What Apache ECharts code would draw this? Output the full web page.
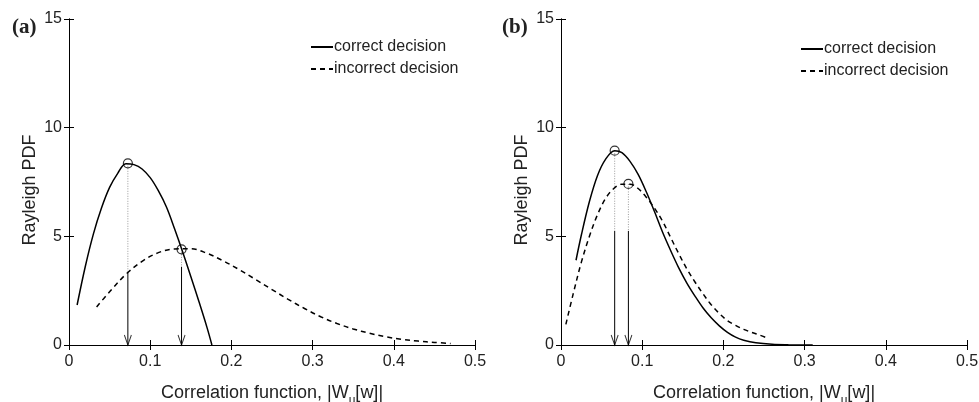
<!DOCTYPE html>
<html>
<head>
<meta charset="utf-8">
<script src="https://cdn.jsdelivr.net/npm/echarts@6/dist/echarts.min.js"></script>
<style>
  html, body { margin: 0; padding: 0; background: #fff; }
  #chart { width: 979px; height: 402px; }
</style>
</head>
<body>
<div id="chart"></div>
<script>
// panel (a)
var aCorrectX = [0.010, 0.020, 0.030, 0.040, 0.050, 0.060, 0.070, 0.080, 0.090, 0.100, 0.110, 0.120, 0.130, 0.140, 0.150, 0.160, 0.170, 0.176];
var aCorrectY = [1.84, 3.6, 5.1, 6.3, 7.25, 7.9, 8.34, 8.3, 8.1, 7.7, 7.1, 6.35, 5.35, 4.28, 3.15, 2.0, 0.8, 0];
var aWrongX = [0.034, 0.05, 0.07, 0.09, 0.11, 0.13, 0.15, 0.17, 0.19, 0.21, 0.23, 0.25, 0.27, 0.29, 0.31, 0.33, 0.35, 0.37, 0.39, 0.41, 0.43, 0.45, 0.47];
var aWrongY = [1.75, 2.45, 3.25, 3.85, 4.25, 4.42, 4.43, 4.22, 3.87, 3.46, 3.01, 2.55, 2.1, 1.68, 1.3, 0.99, 0.74, 0.54, 0.38, 0.26, 0.18, 0.12, 0.07];
var aMarkX = [0.0725, 0.1386];
var aMarkY = [8.36, 4.40];
var aArrowTop = [3.35, 3.6];

// panel (b)
var bCorrectX = [0.0185, 0.025, 0.035, 0.045, 0.055, 0.066, 0.075, 0.085, 0.095, 0.105, 0.115, 0.125, 0.135, 0.145, 0.155, 0.165, 0.175, 0.185, 0.195, 0.205, 0.215, 0.225, 0.24, 0.26, 0.28, 0.31];
var bCorrectY = [3.9, 5.05, 6.6, 7.8, 8.55, 8.94, 8.85, 8.45, 7.85, 7.05, 6.15, 5.2, 4.35, 3.55, 2.85, 2.25, 1.7, 1.25, 0.88, 0.58, 0.36, 0.22, 0.1, 0.03, 0.01, 0];
var bWrongX = [0.006, 0.015, 0.025, 0.035, 0.045, 0.055, 0.065, 0.075, 0.085, 0.095, 0.105, 0.115, 0.125, 0.135, 0.145, 0.155, 0.165, 0.175, 0.185, 0.195, 0.205, 0.215, 0.225, 0.235, 0.245, 0.252];
var bWrongY = [0.95, 2.35, 3.8, 5.0, 6.0, 6.75, 7.2, 7.4, 7.4, 7.2, 6.8, 6.3, 5.7, 4.95, 4.2, 3.5, 2.9, 2.35, 1.85, 1.45, 1.12, 0.9, 0.72, 0.58, 0.45, 0.35];
var bMarkX = [0.0661, 0.083];
var bMarkY = [8.94, 7.41];
var bArrowTop = [5.25, 5.25];

var xTicks = [0, 0.1, 0.2, 0.3, 0.4, 0.5];
var yTicks = [0, 5, 10, 15];

var FONT = 'Liberation Sans';

function pairs(xs, ys) {
  return xs.map(function (x, i) { return [x, ys[i]]; });
}

function curve(name, xs, ys, dashed, idx) {
  return {
    name: name, type: 'line', xAxisIndex: idx, yAxisIndex: idx,
    data: pairs(xs, ys), showSymbol: false, symbol: 'none',
    smooth: 0.35,
    lineStyle: { color: '#000', width: 1.5, type: dashed ? [5, 4] : 'solid' },
    itemStyle: { color: '#000' },
    z: 3, silent: true
  };
}

function guides(markX, markY, arrowTop, idx) {
  var out = [];
  markX.forEach(function (x, i) {
    // dotted guide from the marker down
    out.push({
      type: 'line', xAxisIndex: idx, yAxisIndex: idx, symbol: 'none', silent: true,
      data: [[x, markY[i]], [x, arrowTop[i]]],
      lineStyle: { color: '#999', width: 1, type: [1, 1.5] }, z: 2
    });
    // arrow shaft
    out.push({
      type: 'line', xAxisIndex: idx, yAxisIndex: idx, symbol: 'none', silent: true,
      data: [[x, arrowTop[i]], [x, 0]],
      lineStyle: { color: '#000', width: 1 }, z: 2
    });
  });
  // arrow heads
  out.push({
    type: 'scatter', xAxisIndex: idx, yAxisIndex: idx, silent: true,
    data: markX.map(function (x) { return [x, 0]; }),
    symbol: 'path://M0,0L5,10L10,0', symbolSize: [7, 10], symbolOffset: [0, '-50%'],
    itemStyle: { color: 'transparent', borderColor: '#000', borderWidth: 1.2 }, z: 4
  });
  // open circles
  out.push({
    type: 'scatter', xAxisIndex: idx, yAxisIndex: idx, silent: true,
    data: pairs(markX, markY),
    symbol: 'circle', symbolSize: 9,
    itemStyle: { color: 'transparent', borderColor: '#000', borderWidth: 1.2 }, z: 5
  });
  return out;
}

var lefts = [69, 561];
var grids = lefts.map(function (l) {
  return { left: l, top: 19, width: 406, height: 326, containLabel: false, outerBoundsMode: 'none' };
});

var xAxes = [], yAxes = [];
[0, 1].forEach(function (g) {
  xAxes.push({
    type: 'value', gridIndex: g, min: 0, max: 0.5, interval: 0.1, position: 'bottom',
    axisLine: { lineStyle: { color: '#000', width: 1 } },
    axisTick: { inside: true, length: 5, lineStyle: { color: '#000' } },
    axisLabel: { color: '#222', fontFamily: FONT, fontSize: 16, margin: 9,
      formatter: function (v) { return xTicks.indexOf(+v.toFixed(1)) >= 0 ? String(+v.toFixed(1)) : ''; } },
    splitLine: { show: false },
    name: '{a|Correlation function, |W}{s|u}{a|[w]|}',
    nameLocation: 'middle', nameGap: 34,
    nameTextStyle: { rich: {
      a: { fontFamily: FONT, fontSize: 18, color: '#222' },
      s: { fontFamily: FONT, fontSize: 12, color: '#222', verticalAlign: 'bottom', padding: [16, 0, 0, 0] }
    } }
  });
  xAxes.push({
    type: 'value', gridIndex: g, min: 0, max: 0.5, interval: 0.1, position: 'top',
    axisLine: { lineStyle: { color: '#000', width: 1 } },
    axisTick: { inside: true, length: 5, lineStyle: { color: '#000' } },
    axisLabel: { show: false }, splitLine: { show: false }
  });
  yAxes.push({
    type: 'value', gridIndex: g, min: 0, max: 15, interval: 5, position: 'left',
    axisLine: { show: true, lineStyle: { color: '#000', width: 1 } },
    axisTick: { show: true, inside: true, length: 5, lineStyle: { color: '#000' } },
    axisLabel: { color: '#222', fontFamily: FONT, fontSize: 16, margin: 7 },
    splitLine: { show: false },
    name: 'Rayleigh PDF', nameLocation: 'middle', nameGap: 30,
    nameTextStyle: { fontFamily: FONT, fontSize: 18, color: '#222', padding: [0, 16, 0, 0] }
  });
  yAxes.push({
    type: 'value', gridIndex: g, min: 0, max: 15, interval: 5, position: 'right',
    axisLine: { show: true, lineStyle: { color: '#000', width: 1 } },
    axisTick: { show: true, inside: true, length: 5, lineStyle: { color: '#000' } },
    axisLabel: { show: false }, splitLine: { show: false }
  });
});

// top/right axes are indices 1 and 3; curves use bottom/left axes 0 and 2
var series = [];
series.push(curve('correct decision', aCorrectX, aCorrectY, false, 0));
series.push(curve('incorrect decision', aWrongX, aWrongY, true, 0));
series = series.concat(guides(aMarkX, aMarkY, aArrowTop, 0));
series.push(curve('correct decision', bCorrectX, bCorrectY, false, 2));
series.push(curve('incorrect decision', bWrongX, bWrongY, true, 2));
series = series.concat(guides(bMarkX, bMarkY, bArrowTop, 2));

function legend(left, top) {
  return {
    data: ['correct decision', 'incorrect decision'],
    orient: 'vertical', left: left, top: top, itemWidth: 22, itemHeight: 14, itemGap: 6,
    selectedMode: false, padding: 0,
    itemStyle: { color: 'transparent', borderColor: 'transparent', borderWidth: 0, opacity: 0 },
    textStyle: { fontFamily: FONT, fontSize: 16, color: '#222', padding: [0, 0, 0, -4] }
  };
}

var chart = echarts.init(document.getElementById('chart'), null, { renderer: 'canvas' });
chart.setOption({
  backgroundColor: '#fff',
  animation: false,
  title: [
    { text: '(a)', left: 7, top: 12, textStyle: { fontFamily: 'Liberation Serif', fontWeight: 'bold', fontSize: 21, color: '#222' } },
    { text: '(b)', left: 497, top: 12, textStyle: { fontFamily: 'Liberation Serif', fontWeight: 'bold', fontSize: 21, color: '#222' } }
  ],
  legend: [legend(310, 39), legend(800, 41)],
  grid: grids,
  xAxis: xAxes,
  yAxis: yAxes,
  series: series
});
</script>
</body>
</html>
